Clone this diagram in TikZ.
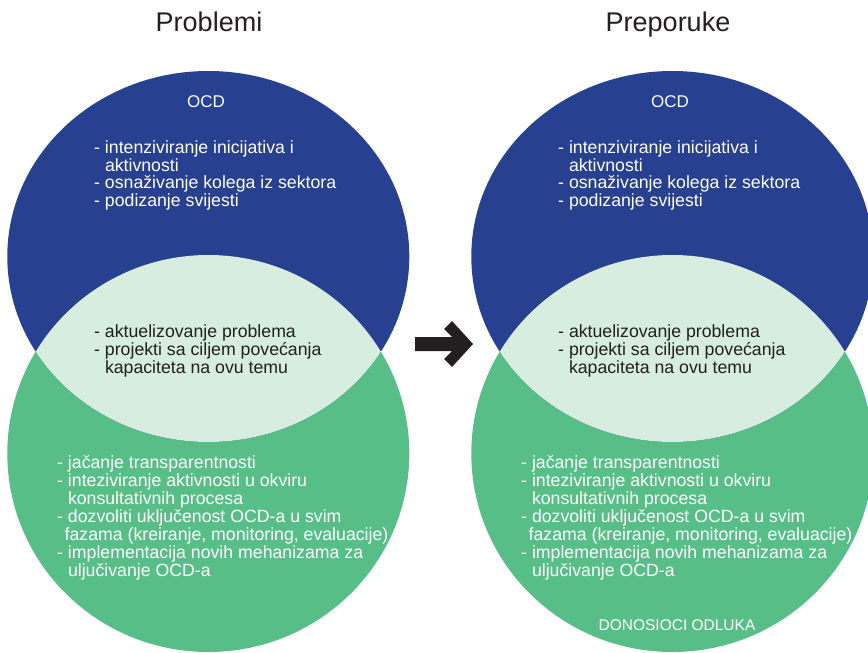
\documentclass[tikz,border=0pt]{standalone}
\usepackage{fontspec}
\setmainfont{Liberation Sans}
\definecolor{ocdblue}{RGB}{39,64,143}
\definecolor{dogreen}{RGB}{88,190,136}
\definecolor{lensgreen}{RGB}{214,237,223}
\definecolor{ink}{RGB}{35,31,32}
\begin{document}
\begin{tikzpicture}[x=1pt,y=-1pt,
  title/.style={font=\fontsize{27}{32}\selectfont, text=ink, anchor=base, inner sep=0pt},
  body/.style={font=\fontsize{17.7}{20}\selectfont, anchor=base west, inner sep=0pt},
  wline/.style={body, text=white},
  dline/.style={body, text=ink},
  label/.style={font=\fontsize{17}{20}\selectfont, text=white, anchor=base, inner sep=0pt},
  caplabel/.style={font=\fontsize{15.5}{18}\selectfont, text=white, anchor=base, inner sep=0pt}]
\useasboundingbox (0,0) rectangle (868,653);
\clip (0,0) rectangle (868,653);
\fill[white] (0,0) rectangle (868,653);
\node[title] (t1) at (209,31) {Problemi};
\node[title] (t2) at (668,31) {Preporuke};
\foreach \dx/\nm in {0/L,464/R} {
  \begin{scope}[xshift=\dx pt]
    \fill[dogreen] (208.3,453.5) ellipse [x radius=201, y radius=198.5];
    \fill[ocdblue] (208.3,256.5) ellipse [x radius=201, y radius=185.5];
    \begin{scope}
      \clip (208.3,256.5) ellipse [x radius=201, y radius=185.5];
      \fill[lensgreen] (208.3,453.5) ellipse [x radius=201, y radius=198.5];
    \end{scope}
    \node[label] (\nm-ocd) at (206,107) {OCD};
    \node[wline] (\nm-a1) at (94,153) {- intenziviranje inicijativa i};
    \node[wline] (\nm-a2) at (94,171) {\phantom{- }aktivnosti};
    \node[wline] (\nm-a3) at (94,188.5) {- osnaživanje kolega iz sektora};
    \node[wline] (\nm-a4) at (94,206) {- podizanje svijesti};
    \node[dline] (\nm-b1) at (94,337) {- aktuelizovanje problema};
    \node[dline] (\nm-b2) at (94,355) {- projekti sa ciljem povećanja};
    \node[dline] (\nm-b3) at (94,373) {\phantom{- }kapaciteta na ovu temu};
    \node[wline] (\nm-c1) at (57,468) {- jačanje transparentnosti};
    \node[wline] (\nm-c2) at (57,486) {- inteziviranje aktivnosti u okviru};
    \node[wline] (\nm-c3) at (57,504) {\phantom{- }konsultativnih procesa};
    \node[wline] (\nm-c4) at (57,522) {- dozvoliti uključenost OCD-a u svim};
    \node[wline] (\nm-c5) at (64.5,540) {fazama (kreiranje, monitoring, evaluacije)};
    \node[wline] (\nm-c6) at (57,558) {- implementacija novih mehanizama za};
    \node[wline] (\nm-c7) at (57,576) {\phantom{- }uljučivanje OCD-a};
  \end{scope}
}
\node[caplabel] (dono) at (677,630) {DONOSIOCI ODLUKA};
\fill[ink] (415,337) -- (452,337) -- (444,329) -- (452,321) -- (473,344) -- (452,367) -- (444,359) -- (452,351) -- (415,351) -- cycle;
\end{tikzpicture}
\end{document}
